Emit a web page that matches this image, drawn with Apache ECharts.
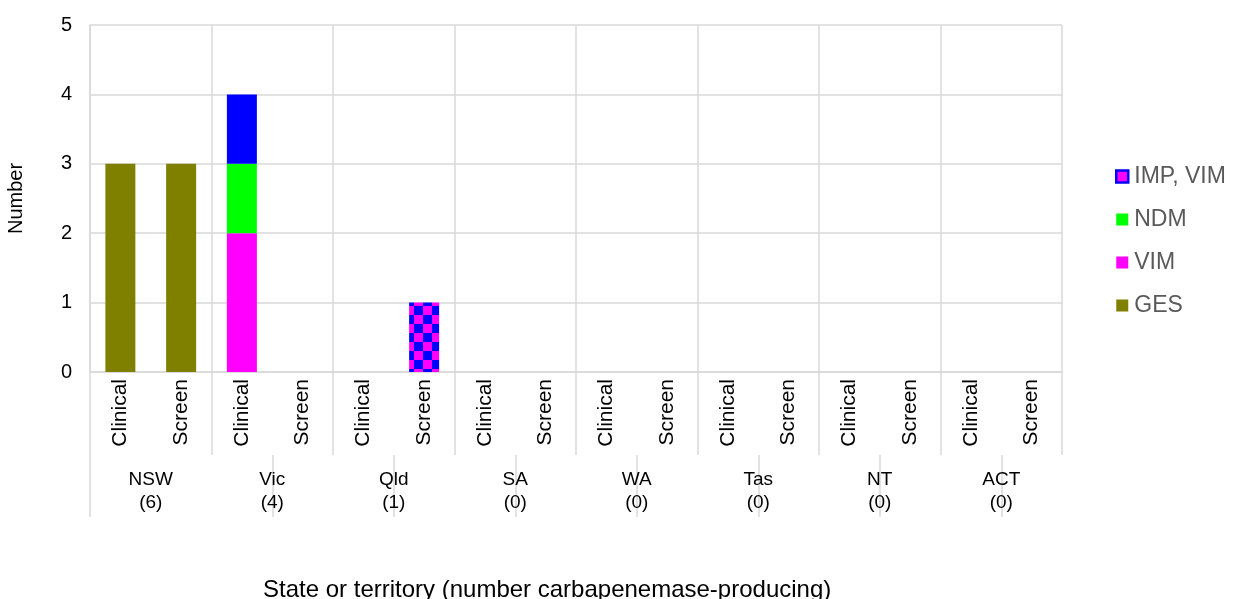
<!DOCTYPE html>
<html>
<head>
<meta charset="utf-8">
<script src="https://cdn.jsdelivr.net/npm/echarts@6/dist/echarts.min.js"></script>
<style>html,body{margin:0;padding:0;background:#fff;}#c{width:1234px;height:599px;}</style>
</head>
<body>
<div id="c"></div>
<script>
const states = ['NSW', 'Vic', 'Qld', 'SA', 'WA', 'Tas', 'NT', 'ACT'];
const stateCounts = [6, 4, 1, 0, 0, 0, 0, 0];
const sources = ['Clinical', 'Screen'];
const categories = states.flatMap(s => sources.map(t => s + ' ' + t));
const sourceLabels = states.flatMap(() => sources);
// values per category (Clinical, Screen for each state)
const gesValues    = [3, 3, 0, 0, 0, 0, 0, 0, 0, 0, 0, 0, 0, 0, 0, 0];
const vimValues    = [0, 0, 2, 0, 0, 0, 0, 0, 0, 0, 0, 0, 0, 0, 0, 0];
const ndmValues    = [0, 0, 1, 0, 0, 0, 0, 0, 0, 0, 0, 0, 0, 0, 0, 0];
const impVimValues = [0, 0, 1, 0, 0, 1, 0, 0, 0, 0, 0, 0, 0, 0, 0, 0];
// bars of "IMP, VIM" drawn solid blue instead of the check pattern
const impVimSolid  = [false, false, true, false, false, false, false, false, false, false, false, false, false, false, false, false];
const yTicks = [0, 1, 2, 3, 4, 5];
// separator positions (in category-boundary units) of the lower label band
const lowerSeparators = [0, 3, 5, 7, 9, 11, 13, 15];

const FONT = 'Liberation Sans, Arial, sans-serif';
const GRID = '#d9d9d9';

function checker() {
  const c = document.createElement('canvas');
  const s = 9;
  c.width = s * 2; c.height = s * 2;
  const g = c.getContext('2d');
  g.fillStyle = '#ff00ff'; g.fillRect(0, 0, s * 2, s * 2);
  g.fillStyle = '#0000ff';
  g.fillRect(0, 0, s, s); g.fillRect(s, s, s, s);
  return c;
}
const pattern = { image: checker(), repeat: 'repeat' };

const chart = echarts.init(document.getElementById('c'), null, { renderer: 'canvas' });
const common = { type: 'bar', stack: 'all', barWidth: 30, animation: false, xAxisIndex: 0 };
const always = () => true;

chart.setOption({
  animation: false,
  textStyle: { fontFamily: FONT },
  grid: { left: 90, right: 172, top: 25, bottom: 227, containLabel: false, outerBoundsMode: 'none' },
  title: {
    text: 'State or territory (number carbapenemase-producing)',
    left: 258, top: 573,
    textStyle: { fontFamily: FONT, fontSize: 24, fontWeight: 'normal', color: '#000' }
  },
  legend: {
    orient: 'vertical', left: 1110, top: 160, itemGap: 20,
    itemWidth: 12, itemHeight: 12, icon: 'rect',
    textStyle: { fontFamily: FONT, fontSize: 23, color: '#595959', padding: [0, 0, 0, 1] },
    data: [
      { name: 'IMP, VIM', itemStyle: { color: '#ff00ff', borderColor: '#0000ff', borderWidth: 2.5 } },
      'NDM', 'VIM', 'GES'
    ]
  },
  xAxis: [
    {
      type: 'category', data: categories, position: 'bottom',
      axisLine: { lineStyle: { color: GRID, width: 1.5 } },
      axisTick: { show: true, interval: 1, length: 83, lineStyle: { color: GRID, width: 1.5 } },
      splitLine: { show: true, interval: 1, lineStyle: { color: GRID, width: 1.5 } },
      axisLabel: {
        interval: always, rotate: 90, margin: 7,
        formatter: (v, i) => sourceLabels[i],
        fontFamily: FONT, fontSize: 21, color: '#000'
      }
    },
    {
      type: 'category', data: states, position: 'bottom', offset: 83,
      axisLine: { show: false }, axisTick: { show: false },
      axisLabel: {
        interval: always, margin: 13, lineHeight: 23,
        formatter: (v, i) => v + '\n(' + stateCounts[i] + ')',
        fontFamily: FONT, fontSize: 19, color: '#000'
      }
    },
    {
      type: 'value', min: 0, max: categories.length, position: 'bottom', offset: 83,
      axisLine: { show: false },
      axisLabel: { show: false },
      splitLine: { show: false },
      axisTick: {
        show: true, length: 62, customValues: lowerSeparators,
        lineStyle: { color: GRID, width: 1.5 }
      }
    }
  ],
  yAxis: {
    type: 'value', min: yTicks[0], max: yTicks[yTicks.length - 1], interval: 1,
    name: 'Number', nameLocation: 'middle', nameGap: 64, nameRotate: 90,
    nameTextStyle: { fontFamily: FONT, fontSize: 20, color: '#000' },
    axisLine: { show: true, lineStyle: { color: GRID, width: 1.5 } },
    axisTick: { show: false },
    splitLine: { lineStyle: { color: GRID, width: 1.5 } },
    axisLabel: { margin: 18, fontFamily: FONT, fontSize: 20, color: '#000' }
  },
  series: [
    Object.assign({ name: 'GES', data: gesValues, itemStyle: { color: '#808000' } }, common),
    Object.assign({ name: 'VIM', data: vimValues, itemStyle: { color: '#ff00ff' } }, common),
    Object.assign({ name: 'NDM', data: ndmValues, itemStyle: { color: '#00ff00' } }, common),
    Object.assign({
      name: 'IMP, VIM',
      data: impVimValues.map((v, i) => impVimSolid[i] ? { value: v, itemStyle: { color: '#0000ff' } } : v),
      itemStyle: { color: pattern }
    }, common)
  ]
});
</script>
</body>
</html>
